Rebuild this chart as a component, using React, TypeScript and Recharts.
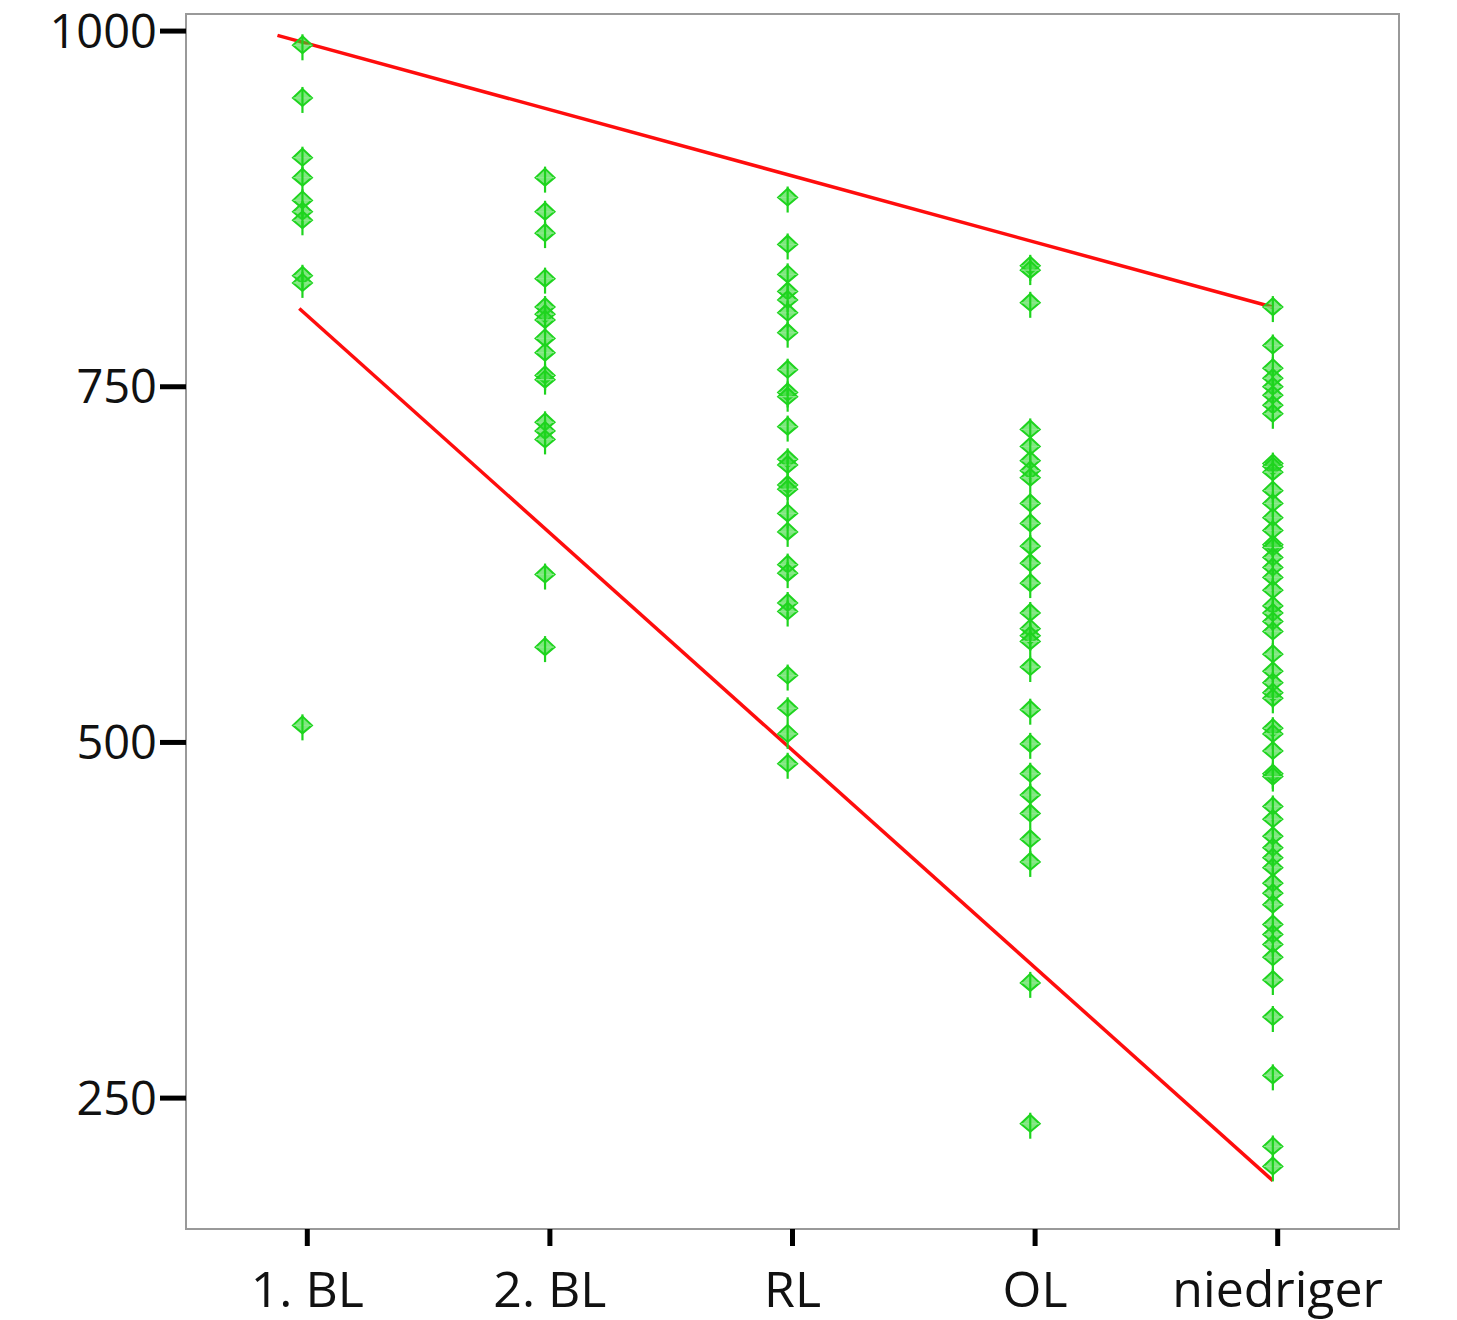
import { ComposedChart, Line, ReferenceArea, Scatter, XAxis, YAxis } from 'recharts';

const CATEGORIES = ['1. BL', '2. BL', 'RL', 'OL', 'niedriger'];
const Y_TICKS = [250, 500, 750, 1000];

const bl1 = [990, 953, 911, 897, 881, 873, 867, 828, 823, 512];
const bl2 = [897, 873, 858, 826, 806, 801, 797, 784, 774, 758, 755, 725, 719, 713, 618, 567];
const rl = [
  883, 850, 829, 817, 811, 802, 788, 762, 746, 743, 722, 699, 695, 681, 678, 661, 648, 625, 619,
  598, 592, 547, 524, 506, 485,
];
const ol = [
  835, 832, 809, 720, 708, 698, 691, 686, 668, 654, 638, 626, 612, 591, 580, 575, 571, 553, 523,
  499, 478, 463, 450, 432, 416, 331, 232,
];
const niedriger = [
  806, 779, 763, 756, 750, 744, 737, 731, 696, 694, 690, 677, 668, 658, 649, 639, 637, 630, 623,
  616, 607, 596, 591, 585, 578, 562, 550, 542, 535, 531, 510, 506, 494, 478, 476, 455, 446, 434,
  426, 419, 412, 401, 394, 386, 372, 365, 358, 349, 333, 307, 266, 216, 202,
];

// fitted boundary lines (x in category units)
const upperLine = [
  { x: 0.877, y: 997 },
  { x: 4.98, y: 806 },
];
const lowerLine = [
  { x: 0.967, y: 805 },
  { x: 4.98, y: 192 },
];

// point columns sit a touch left of the tick marks in the original
const COL_SHIFT = -0.02;
const groups = [bl1, bl2, rl, ol, niedriger];
const points = groups.flatMap((vals, i) => vals.map((y) => ({ x: i + 1 + COL_SHIFT, y })));

const GREEN = '#1ed41e';

function Marker(props: any) {
  const { cx, cy } = props;
  if (cx == null || cy == null) return null;
  return (
    <g>
      <path
        d={`M${cx},${cy - 9} L${cx + 9.5},${cy} L${cx},${cy + 8} L${cx - 9.5},${cy} Z`}
        fill="rgba(40,215,40,0.6)"
        stroke={GREEN}
        strokeWidth={2}
      />
      <line x1={cx - 9} y1={cy} x2={cx + 9} y2={cy} stroke="#8fe88f" strokeWidth={1.2} />
      <line x1={cx} y1={cy - 11} x2={cx} y2={cy + 15} stroke={GREEN} strokeWidth={2.2} />
    </g>
  );
}

const font = '"Open Sans", sans-serif';
const xTickStyle = { fill: '#111', fontSize: 50, fontFamily: font };
const yTickStyle = { fill: '#111', fontSize: 47, fontFamily: font };

export default function App() {
  return (
    <div style={{ position: 'absolute', left: 0, top: 0, background: '#fff' }}>
      <ComposedChart
        width={1457}
        height={1320}
        data={points}
        margin={{ top: 14, right: 58, left: 0, bottom: 0 }}
      >
        <XAxis
          type="number"
          dataKey="x"
          domain={[0.5, 5.5]}
          ticks={[1, 2, 3, 4, 5]}
          tickFormatter={(v: number) => CATEGORIES[Math.round(v) - 1]}
          axisLine={false}
          tickLine={{ stroke: '#000', strokeWidth: 5 }}
          tickSize={17}
          tickMargin={25}
          height={91}
          tick={xTickStyle}
          interval={0}
          allowDataOverflow
        />
        <YAxis
          type="number"
          dataKey="y"
          domain={[158, 1012]}
          ticks={Y_TICKS}
          axisLine={false}
          tickLine={{ stroke: '#000', strokeWidth: 5 }}
          tickSize={26}
          tickMargin={3}
          width={186}
          tick={yTickStyle}
          interval={0}
          allowDataOverflow
        />
        <ReferenceArea
          x1={0.5}
          x2={5.5}
          y1={158}
          y2={1012}
          fill="none"
          stroke="#999"
          strokeWidth={2}
          ifOverflow="visible"
        />
        <Scatter data={points} dataKey="y" shape={<Marker />} isAnimationActive={false} />
        <Line
          data={upperLine}
          dataKey="y"
          stroke="#ff0d0d"
          strokeWidth={3.5}
          dot={false}
          isAnimationActive={false}
        />
        <Line
          data={lowerLine}
          dataKey="y"
          stroke="#ff0d0d"
          strokeWidth={3.5}
          dot={false}
          isAnimationActive={false}
        />
      </ComposedChart>
    </div>
  );
}
